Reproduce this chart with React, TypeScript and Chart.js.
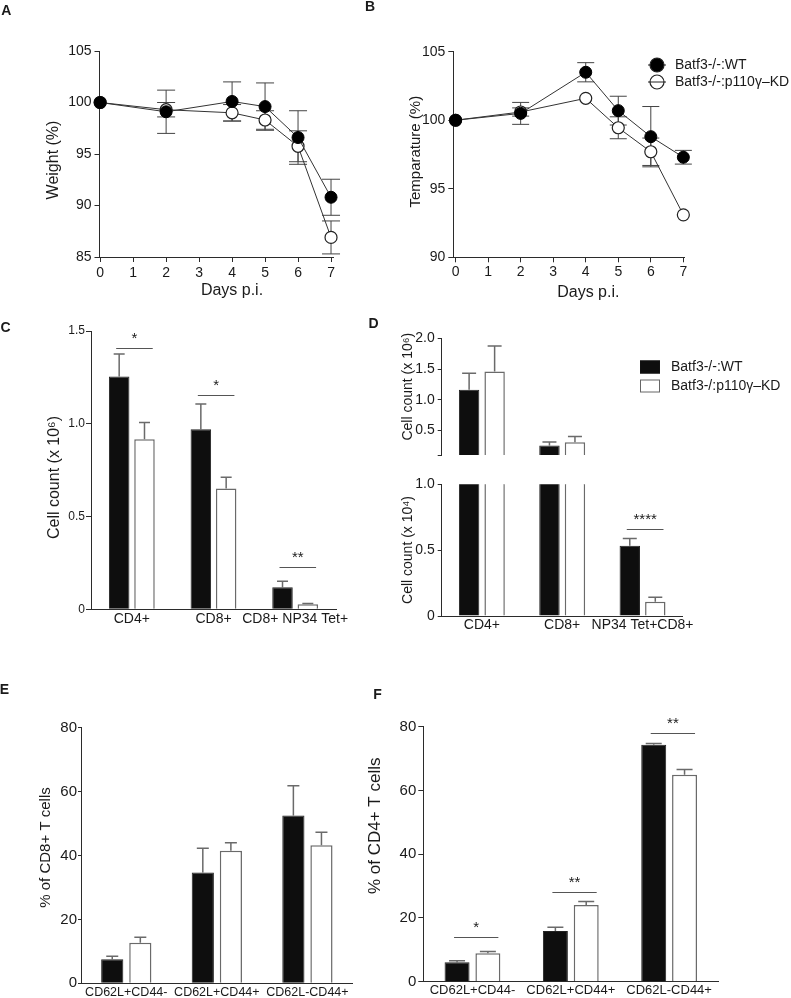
import { useEffect, useRef } from "react";
import { Chart, registerables } from "chart.js";

Chart.register(...registerables);

const FONT = '"Liberation Sans", Arial, Helvetica, sans-serif';
const AXIS = "#2b2b2b";
const TEXT = "#1a1a1a";
Chart.defaults.font.family = FONT;
Chart.defaults.color = TEXT;

// ---------- series names ----------
const seriesWT = "Batf3-/-:WT";
const seriesKD = "Batf3-/-:p110γ–KD";
const seriesKDd = "Batf3-/:p110γ–KD";

// ---------- A / B : time course ----------
const days = [0, 2, 4, 5, 6, 7];
const dayTicks = [0, 1, 2, 3, 4, 5, 6, 7];

const weightWT = [100, 99.1, 100.1, 99.6, 96.6, 90.8];
const weightWTErr = [0, 2.1, 1.9, 2.3, 2.6, 1.75];
const weightKD = [100, 99.3, 99.0, 98.3, 95.75, 86.9];
const weightKDErr = [0, 0.7, 0.8, 0.9, 1.5, 1.6];
const weightTicks = [85, 90, 95, 100, 105];

const tempWT = [100, 100.5, 103.5, 100.7, 98.8, 97.3];
const tempWTErr = [0, 0.8, 0.7, 1.05, 2.2, 0.5];
const tempKD = [100, 100.6, 101.6, 99.45, 97.7, 93.1];
const tempKDErr = [0, 0.3, 0, 0.8, 1.0, 0];
const tempTicks = [90, 95, 100, 105];

// ---------- C ----------
const cCats = ["CD4+", "CD8+", "CD8+ NP34 Tet+"];
const cWT = [1.255, 0.971, 0.119];
const cWTErr = [0.121, 0.135, 0.032];
const cKD = [0.917, 0.651, 0.027];
const cKDErr = [0.09, 0.061, 0.004];
const cTicks = [0, 0.5, 1.0, 1.5];
const cTickLabels = ["0", "0.5", "1.0", "1.5"];
const cSigIdx = [0, 1, 2];
const cSigY = [1.408, 1.155, 0.227];
const cSigText = ["*", "*", "**"];

// ---------- D (broken axis) ----------
const dCats = ["CD4+", "CD8+", "NP34 Tet+CD8+"];
// upper part, x 10^6
const dWT6 = [1.163, 0.255, null];
const dWT6Err = [0.267, 0.055, 0];
const dKD6 = [1.46, 0.307, null];
const dKD6Err = [0.415, 0.093, 0];
const dTopTicks = [0.1, 0.5, 1.0, 1.5, 2.0];
const dTopTickLabels = ["", "0.5", "1.0", "1.5", "2.0"];
// lower part, x 10^4 (CD4+/CD8+ run off the top of this section)
const dWT4 = [116.3, 25.5, 0.533];
const dWT4Err = [0, 0, 0.056];
const dKD4 = [146, 30.7, 0.109];
const dKD4Err = [0, 0, 0.033];
const dBotTicks = [0, 0.5, 1.0];
const dBotTickLabels = ["0", "0.5", "1.0"];
const dSigIdx = [2];
const dSigY = [0.66];
const dSigText = ["****"];

// ---------- E ----------
const eCats = ["CD62L+CD44-", "CD62L+CD44+", "CD62L-CD44+"];
const eWT = [7.5, 34.7, 52.5];
const eWTErr = [1.0, 7.6, 9.3];
const eKD = [12.7, 41.5, 43.2];
const eKDErr = [1.7, 2.5, 4.1];
const pctTicks = [0, 20, 40, 60, 80];

// ---------- F ----------
const fCats = ["CD62L+CD44-", "CD62L+CD44+", "CD62L-CD44+"];
const fWT = [6.1, 15.9, 74.3];
const fWTErr = [0.5, 1.2, 0.4];
const fKD = [8.9, 24.1, 64.9];
const fKDErr = [0.6, 1.1, 1.7];
const fSigIdx = [0, 1, 2];
const fSigY = [14.1, 28.05, 77.9];
const fSigText = ["*", "**", "**"];

// ---------- plugins ----------
const errorBarPlugin = {
  id: "errBars",
  beforeDatasetsDraw(chart: any) {
    const ctx = chart.ctx;
    chart.data.datasets.forEach((ds: any, di: number) => {
      const errs = ds.errors;
      if (!errs) return;
      const meta = chart.getDatasetMeta(di);
      const ys = chart.scales[meta.yAxisID];
      ctx.save();
      ctx.strokeStyle = ds.errColor || "#555";
      ctx.lineWidth = ds.errWidth || 1;
      meta.data.forEach((el: any, i: number) => {
        const raw = ds.data[i];
        const v = raw !== null && typeof raw === "object" ? raw.y : raw;
        const e = errs[i];
        if (v === null || v === undefined || !e) return;
        if (v > ys.max) return;
        const x = el.x;
        const cap = ds.errCap || 6;
        const yTop = ys.getPixelForValue(v + e);
        const both = ds.errMode === "both";
        const yBot = both ? ys.getPixelForValue(v - e) : ys.getPixelForValue(v);
        ctx.beginPath();
        ctx.moveTo(x, yTop);
        ctx.lineTo(x, yBot);
        ctx.moveTo(x - cap, yTop);
        ctx.lineTo(x + cap, yTop);
        if (both) {
          ctx.moveTo(x - cap, yBot);
          ctx.lineTo(x + cap, yBot);
        }
        ctx.stroke();
      });
      ctx.restore();
    });
  },
};

const sigPlugin = {
  id: "sig",
  afterDatasetsDraw(chart: any, _a: any, opts: any) {
    const idx = opts.idx;
    if (!idx) return;
    const ctx = chart.ctx;
    const m0 = chart.getDatasetMeta(0);
    const m1 = chart.getDatasetMeta(1);
    const ys = chart.scales[m0.yAxisID];
    ctx.save();
    for (let k = 0; k < idx.length; k++) {
      const i = idx[k];
      const b0 = m0.data[i];
      const b1 = m1.data[i];
      const x0 = b0.x - 3;
      const x1 = b1.x + b1.width / 2 - 2;
      const py = Math.round(ys.getPixelForValue(opts.ys[k])) + 0.5;
      ctx.strokeStyle = "#555";
      ctx.lineWidth = 1;
      ctx.beginPath();
      ctx.moveTo(x0, py);
      ctx.lineTo(x1, py);
      ctx.stroke();
      ctx.fillStyle = TEXT;
      ctx.font = `15px ${FONT}`;
      ctx.textAlign = "center";
      ctx.textBaseline = "alphabetic";
      ctx.fillText(opts.texts[k], (x0 + x1) / 2, py - 5.5);
    }
    ctx.restore();
  },
};

const textPlugin = {
  id: "pageText",
  afterDraw(chart: any, _a: any, opts: any) {
    const items = opts.items || [];
    const ctx = chart.ctx;
    ctx.save();
    ctx.translate(-opts.ox, -opts.oy);
    for (const it of items) {
      ctx.save();
      ctx.font = `${it.weight || "normal"} ${it.size}px ${FONT}`;
      ctx.fillStyle = TEXT;
      ctx.textAlign = it.align || "center";
      ctx.textBaseline = "middle";
      ctx.translate(it.x, it.y);
      if (it.rot) ctx.rotate(it.rot);
      ctx.fillText(it.text, 0, 0);
      ctx.restore();
    }
    ctx.restore();
  },
};

const legendPlugin = {
  id: "myLegend",
  afterDraw(chart: any, _a: any, opts: any) {
    const items = opts.items;
    if (!items) return;
    const ctx = chart.ctx;
    ctx.save();
    ctx.translate(-opts.ox, -opts.oy);
    for (const it of items) {
      if (it.kind === "circle") {
        ctx.strokeStyle = "#222";
        ctx.lineWidth = 1;
        ctx.beginPath();
        ctx.moveTo(it.x - 9, it.y);
        ctx.lineTo(it.x + 9, it.y);
        ctx.stroke();
        ctx.beginPath();
        ctx.arc(it.x, it.y, 7, 0, Math.PI * 2);
        ctx.fillStyle = it.fill;
        ctx.fill();
        ctx.lineWidth = 1.2;
        ctx.stroke();
        if (it.fill === "#fff") {
          ctx.beginPath();
          ctx.moveTo(it.x - 7, it.y);
          ctx.lineTo(it.x + 7, it.y);
          ctx.lineWidth = 1;
          ctx.stroke();
        }
      } else {
        ctx.fillStyle = it.fill;
        ctx.fillRect(it.x, it.y - 6.5, 20, 13);
        ctx.strokeStyle = it.stroke;
        ctx.lineWidth = 1;
        ctx.strokeRect(it.x + 0.5, it.y - 6, 19, 12);
      }
      ctx.fillStyle = TEXT;
      ctx.font = `14px ${FONT}`;
      ctx.textAlign = "left";
      ctx.textBaseline = "middle";
      ctx.fillText(it.text, it.tx, it.y);
    }
    ctx.restore();
  },
};

// ---------- layout helpers ----------
type Box = { x: number; y: number; w: number; h: number };
type Plot = { L: number; T: number; R: number; B: number };

function frame(box: Box, plot: Plot) {
  return {
    yW: plot.L - box.x,
    pt: plot.T - box.y,
    pr: box.x + box.w - plot.R,
    xH: box.y + box.h - plot.B,
  };
}

function yScale(o: any) {
  return {
    type: "linear",
    position: "left",
    min: o.min,
    max: o.max,
    afterBuildTicks: (s: any) => {
      s.ticks = o.ticks.map((v: number) => ({ value: v }));
    },
    afterFit: (s: any) => {
      s.width = o.width;
    },
    border: { display: true, color: AXIS, width: 1 },
    grid: {
      display: true,
      drawOnChartArea: false,
      drawTicks: true,
      tickLength: o.tickLength,
      color: AXIS,
      lineWidth: 1,
    },
    ticks: {
      font: { size: o.size, family: FONT },
      color: TEXT,
      padding: o.padding,
      autoSkip: false,
      callback: (v: any, i: number) => (o.labels ? o.labels[i] : String(v)),
    },
  };
}

function catScale(o: any) {
  return {
    type: "category",
    offset: true,
    display: o.display !== false,
    afterFit: (s: any) => {
      s.height = o.height;
    },
    border: { display: true, color: AXIS, width: 1 },
    grid: { display: false, drawTicks: false },
    ticks: {
      font: { size: o.size, family: FONT },
      color: TEXT,
      padding: o.padding,
      autoSkip: false,
      maxRotation: 0,
      minRotation: 0,
    },
  };
}

function basePlugins(box: Box, texts: any[], extra: any = {}) {
  return {
    legend: { display: false },
    tooltip: { enabled: false },
    pageText: { ox: box.x, oy: box.y, items: texts },
    ...extra,
  };
}

function lineConfig(o: any) {
  const f = frame(o.box, o.plot);
  const pts = (ys: number[]) => days.map((d, i) => ({ x: d, y: ys[i] }));
  return {
    type: "line",
    data: {
      datasets: [
        {
          label: seriesWT,
          data: pts(o.wt),
          borderColor: "#333",
          borderWidth: 1,
          pointRadius: 6,
          pointBackgroundColor: "#000",
          pointBorderColor: "#000",
          pointBorderWidth: 1,
          clip: false,
          tension: 0,
          errors: o.wtErr,
          errMode: "both",
          errCap: o.cap,
          errColor: "#444",
          errWidth: 1,
        },
        {
          label: seriesKD,
          data: pts(o.kd),
          borderColor: "#333",
          borderWidth: 1,
          pointRadius: 6,
          pointBackgroundColor: "#fff",
          pointBorderColor: "#222",
          pointBorderWidth: 1.2,
          clip: false,
          tension: 0,
          errors: o.kdErr,
          errMode: "both",
          errCap: o.cap,
          errColor: "#444",
          errWidth: 1,
        },
      ],
    },
    options: {
      animation: false,
      responsive: false,
      events: [],
      layout: { autoPadding: false, padding: { top: f.pt, right: f.pr, left: 0, bottom: 0 } },
      scales: {
        x: {
          type: "linear",
          min: o.xMin,
          max: o.xMax,
          afterBuildTicks: (s: any) => {
            s.ticks = dayTicks.map((v) => ({ value: v }));
          },
          afterFit: (s: any) => {
            s.height = f.xH;
          },
          border: { display: true, color: AXIS, width: 1 },
          grid: { display: true, drawOnChartArea: false, drawTicks: true, tickLength: 5, color: AXIS },
          ticks: { font: { size: 14 }, color: TEXT, padding: o.xPad, autoSkip: false, maxRotation: 0, callback: (v: any) => String(v) },
        },
        y: yScale({ min: o.yMin, max: o.yMax, ticks: o.yTicks, width: f.yW, tickLength: 5, padding: 3, size: 14 }),
      },
      plugins: basePlugins(o.box, o.texts, o.legend ? { myLegend: { ox: o.box.x, oy: o.box.y, items: o.legend } } : {}),
    },
    plugins: [errorBarPlugin, textPlugin, legendPlugin],
  };
}

function barConfig(o: any) {
  const f = frame(o.box, o.plot);
  return {
    type: "bar",
    data: {
      labels: o.cats,
      datasets: [
        {
          label: seriesWT,
          data: o.wt,
          backgroundColor: "#0e0e0e",
          borderColor: "#222",
          borderWidth: 1,
          barPercentage: o.barPct,
          categoryPercentage: o.catPct,
          errors: o.wtErr,
          errMode: "up",
          errCap: o.cap,
          errColor: "#6a6a6a",
          errWidth: 1.5,
        },
        {
          label: o.kdName || seriesKD,
          data: o.kd,
          backgroundColor: "#ffffff",
          borderColor: "#6a6a6a",
          borderWidth: 1.5,
          barPercentage: o.barPct,
          categoryPercentage: o.catPct,
          errors: o.kdErr,
          errMode: "up",
          errCap: o.cap,
          errColor: "#6a6a6a",
          errWidth: 1.5,
        },
      ],
    },
    options: {
      animation: false,
      responsive: false,
      events: [],
      layout: {
        autoPadding: false,
        padding: { top: f.pt, right: f.pr, left: 0, bottom: o.hideX ? f.xH : 0 },
      },
      scales: {
        x: catScale({ height: f.xH, size: o.xSize, padding: o.xPad, display: !o.hideX }),
        y: yScale({
          min: o.yMin,
          max: o.yMax,
          ticks: o.yTicks,
          labels: o.yLabels,
          width: f.yW,
          tickLength: o.yTick,
          padding: o.yPad,
          size: o.ySize,
        }),
      },
      plugins: basePlugins(o.box, o.texts, {
        sig: o.sig || {},
        myLegend: o.legend ? { ox: o.box.x, oy: o.box.y, items: o.legend } : {},
      }),
    },
    plugins: [errorBarPlugin, sigPlugin, textPlugin, legendPlugin],
  };
}

// ---------- chart boxes ----------
const boxA: Box = { x: 0, y: 0, w: 385, h: 320 };
const boxB: Box = { x: 355, y: 0, w: 436, h: 320 };
const boxC: Box = { x: 0, y: 318, w: 385, h: 335 };
const boxDt: Box = { x: 355, y: 315, w: 436, h: 170 };
const boxDb: Box = { x: 385, y: 468, w: 406, h: 185 };
const boxE: Box = { x: 0, y: 660, w: 380, h: 338 };
const boxF: Box = { x: 360, y: 660, w: 431, h: 338 };

const ROT = -Math.PI / 2;
const LETTER = 14;

const makeA = () =>
  lineConfig({
    box: boxA,
    plot: { L: 99.5, T: 51, R: 333, B: 257 },
    wt: weightWT,
    wtErr: weightWTErr,
    kd: weightKD,
    kdErr: weightKDErr,
    xMin: -0.02,
    xMax: 7.06,
    xPad: 3,
    yMin: 85,
    yMax: 105,
    yTicks: weightTicks,
    cap: 9,
    texts: [
      { text: "A", x: 6.3, y: 11.5, size: LETTER, weight: "bold" },
      { text: "Weight (%)", x: 53.5, y: 160, size: 16, rot: ROT },
      { text: "Days p.i.", x: 232, y: 291, size: 16 },
    ],
  });

const makeB = () =>
  lineConfig({
    box: boxB,
    plot: { L: 453.3, T: 51.7, R: 684, B: 257.3 },
    wt: tempWT,
    wtErr: tempWTErr,
    kd: tempKD,
    kdErr: tempKDErr,
    xMin: -0.07,
    xMax: 7.02,
    xPad: 1,
    yMin: 90,
    yMax: 105,
    yTicks: tempTicks,
    cap: 8.5,
    texts: [
      { text: "B", x: 370, y: 7.5, size: LETTER, weight: "bold" },
      { text: "Temparature (%)", x: 415.8, y: 151.7, size: 15, rot: ROT },
      { text: "Days p.i.", x: 588.3, y: 292.3, size: 16 },
    ],
    legend: [
      { kind: "circle", fill: "#000", x: 657, y: 65, tx: 675, text: seriesWT },
      { kind: "circle", fill: "#fff", x: 657, y: 82, tx: 675, text: seriesKD },
    ],
  });

const makeC = () =>
  barConfig({
    box: boxC,
    plot: { L: 91, T: 331, R: 336, B: 609.3 },
    cats: cCats,
    wt: cWT,
    wtErr: cWTErr,
    kd: cKD,
    kdErr: cKDErr,
    barPct: 0.81,
    catPct: 0.62,
    cap: 5.5,
    yMin: 0,
    yMax: 1.5,
    yTicks: cTicks,
    yLabels: cTickLabels,
    yTick: 5,
    yPad: 1,
    ySize: 12,
    xSize: 14,
    xPad: 1,
    sig: { idx: cSigIdx, ys: cSigY, texts: cSigText },
    texts: [
      { text: "C", x: 5.5, y: 328, size: LETTER, weight: "bold" },
      { text: "Cell count (x 10⁶)", x: 55, y: 477.5, size: 16, rot: ROT },
    ],
  });

const makeDt = () =>
  barConfig({
    box: boxDt,
    plot: { L: 441.7, T: 338.3, R: 682.7, B: 470 },
    cats: dCats,
    wt: dWT6,
    wtErr: dWT6Err,
    kd: dKD6,
    kdErr: dKD6Err,
    kdName: seriesKDd,
    barPct: 0.8,
    catPct: 0.635,
    cap: 7,
    yMin: 0.1,
    yMax: 2.0,
    yTicks: dTopTicks,
    yLabels: dTopTickLabels,
    yTick: 4,
    yPad: 3,
    ySize: 14,
    xSize: 14,
    xPad: 1,
    hideX: true,
    texts: [
      { text: "D", x: 373.5, y: 324, size: LETTER, weight: "bold" },
      { text: "Cell count (x 10⁶)", x: 408.3, y: 386.7, size: 14, rot: ROT },
    ],
    legend: [
      { kind: "box", fill: "#0e0e0e", stroke: "#111", x: 640, y: 367, tx: 671, text: seriesWT },
      { kind: "box", fill: "#fff", stroke: "#666", x: 640, y: 386, tx: 671, text: seriesKDd },
    ],
  });

const makeDb = () =>
  barConfig({
    box: boxDb,
    plot: { L: 441.7, T: 484.3, R: 682.7, B: 616 },
    cats: dCats,
    wt: dWT4,
    wtErr: dWT4Err,
    kd: dKD4,
    kdErr: dKD4Err,
    kdName: seriesKDd,
    barPct: 0.8,
    catPct: 0.635,
    cap: 7,
    yMin: 0,
    yMax: 1.0,
    yTicks: dBotTicks,
    yLabels: dBotTickLabels,
    yTick: 4,
    yPad: 3,
    ySize: 14,
    xSize: 14,
    xPad: 1,
    sig: { idx: dSigIdx, ys: dSigY, texts: dSigText },
    texts: [{ text: "Cell count (x 10⁴)", x: 408.3, y: 550, size: 14, rot: ROT }],
  });

const makeE = () =>
  barConfig({
    box: boxE,
    plot: { L: 81, T: 727.7, R: 352.7, B: 983.3 },
    cats: eCats,
    wt: eWT,
    wtErr: eWTErr,
    kd: eKD,
    kdErr: eKDErr,
    barPct: 0.79,
    catPct: 0.62,
    cap: 6,
    yMin: 0,
    yMax: 80,
    yTicks: pctTicks,
    yTick: 3,
    yPad: 1,
    ySize: 15,
    xSize: 12.5,
    xPad: 2,
    texts: [
      { text: "E", x: 4.5, y: 690, size: LETTER, weight: "bold" },
      { text: "% of CD8+ T cells", x: 45.7, y: 847.5, size: 15, rot: ROT },
    ],
  });

const makeF = () =>
  barConfig({
    box: boxF,
    plot: { L: 423.3, T: 726.7, R: 718.3, B: 981.7 },
    cats: fCats,
    wt: fWT,
    wtErr: fWTErr,
    kd: fKD,
    kdErr: fKDErr,
    barPct: 0.81,
    catPct: 0.627,
    cap: 8,
    yMin: 0,
    yMax: 80,
    yTicks: pctTicks,
    yTick: 5,
    yPad: 2,
    ySize: 15,
    xSize: 13,
    xPad: 1,
    sig: { idx: fSigIdx, ys: fSigY, texts: fSigText },
    texts: [
      { text: "F", x: 377.5, y: 695.5, size: LETTER, weight: "bold" },
      { text: "% of CD4+ T cells", x: 375.7, y: 825.8, size: 17, rot: ROT },
    ],
  });

function ChartCanvas({ box, make }: { box: Box; make: () => any }) {
  const ref = useRef<HTMLCanvasElement | null>(null);
  useEffect(() => {
    const chart = new Chart(ref.current as HTMLCanvasElement, make() as any);
    return () => chart.destroy();
  }, []);
  return (
    <canvas
      ref={ref}
      width={box.w}
      height={box.h}
      style={{ position: "absolute", left: box.x, top: box.y, width: box.w, height: box.h }}
    />
  );
}

export default function App() {
  return (
    <div
      style={{
        position: "absolute",
        left: 0,
        top: 0,
        width: 791,
        height: 998,
        overflow: "hidden",
        background: "#ffffff",
      }}
    >
      <ChartCanvas box={boxA} make={makeA} />
      <ChartCanvas box={boxB} make={makeB} />
      <ChartCanvas box={boxC} make={makeC} />
      <ChartCanvas box={boxDt} make={makeDt} />
      <ChartCanvas box={boxDb} make={makeDb} />
      <ChartCanvas box={boxE} make={makeE} />
      <ChartCanvas box={boxF} make={makeF} />
    </div>
  );
}
